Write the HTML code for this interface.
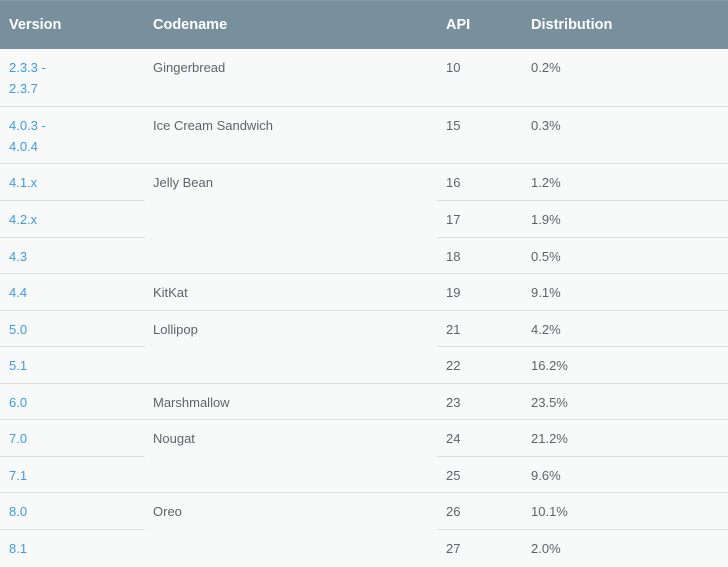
<!DOCTYPE html>
<html><head><meta charset="utf-8"><style>
html,body{margin:0;padding:0;}
body{width:728px;height:567px;background:#f8f9f9;position:relative;overflow:hidden;font-family:"Liberation Sans",Arial,sans-serif;}
#hdr{position:absolute;left:0;top:0;width:728px;height:49px;background:#78909c;border-top:1px solid #8a9aa3;box-sizing:border-box;}
.h{position:absolute;top:16px;color:#fff;font-weight:bold;font-size:14.5px;}
.t{position:absolute;font-size:13px;color:#5f6368;line-height:21px;}
.v{color:#3f9be6;}
.ln{position:absolute;height:1px;background:#dcdfe2;}
</style></head><body>
<div id="hdr">
<div class="h" style="left:9px">Version</div>
<div class="h" style="left:153px">Codename</div>
<div class="h" style="left:446px">API</div>
<div class="h" style="left:531px">Distribution</div>
</div>
<div id="tbl"></div>
<script>
const tops=[49,107,164,201,238,274,311,347,384,420,457,493,530,567];
const versions=["2.3.3 -<br>2.3.7","4.0.3 -<br>4.0.4","4.1.x","4.2.x","4.3","4.4","5.0","5.1","6.0","7.0","7.1","8.0","8.1"];
const codenames=["Gingerbread","Ice Cream Sandwich","Jelly Bean","","","KitKat","Lollipop","","Marshmallow","Nougat","","Oreo",""];
const apis=["10","15","16","17","18","19","21","22","23","24","25","26","27"];
const dist=["0.2%","0.3%","1.2%","1.9%","0.5%","9.1%","4.2%","16.2%","23.5%","21.2%","9.6%","10.1%","2.0%"];
const tbl=document.getElementById('tbl');
function add(cls,x,y,html,name){const d=document.createElement('div');d.className=cls;d.style.left=x+'px';d.style.top=y+'px';d.innerHTML=html;


tbl.appendChild(d);}
function line(x,y,w){const l=document.createElement('div');l.className='ln';l.style.left=x+'px';l.style.top=y+'px';l.style.width=w+'px';


tbl.appendChild(l);}
for(let i=0;i<versions.length;i++){
  const y=tops[i]+8;
  add('t v',9,y,versions[i],'version-'+i);
  if(codenames[i])add('t',153,y,codenames[i],'codename-'+i);
  add('t',446,y,apis[i],'api-'+i);
  add('t',531,y,dist[i],'distribution-'+i);
  if(i>0){
    if(codenames[i])line(0,tops[i]-1,728);
    else{line(0,tops[i]-1,145);line(437,tops[i]-1,291);}
  }
}
</script>
</body></html>
